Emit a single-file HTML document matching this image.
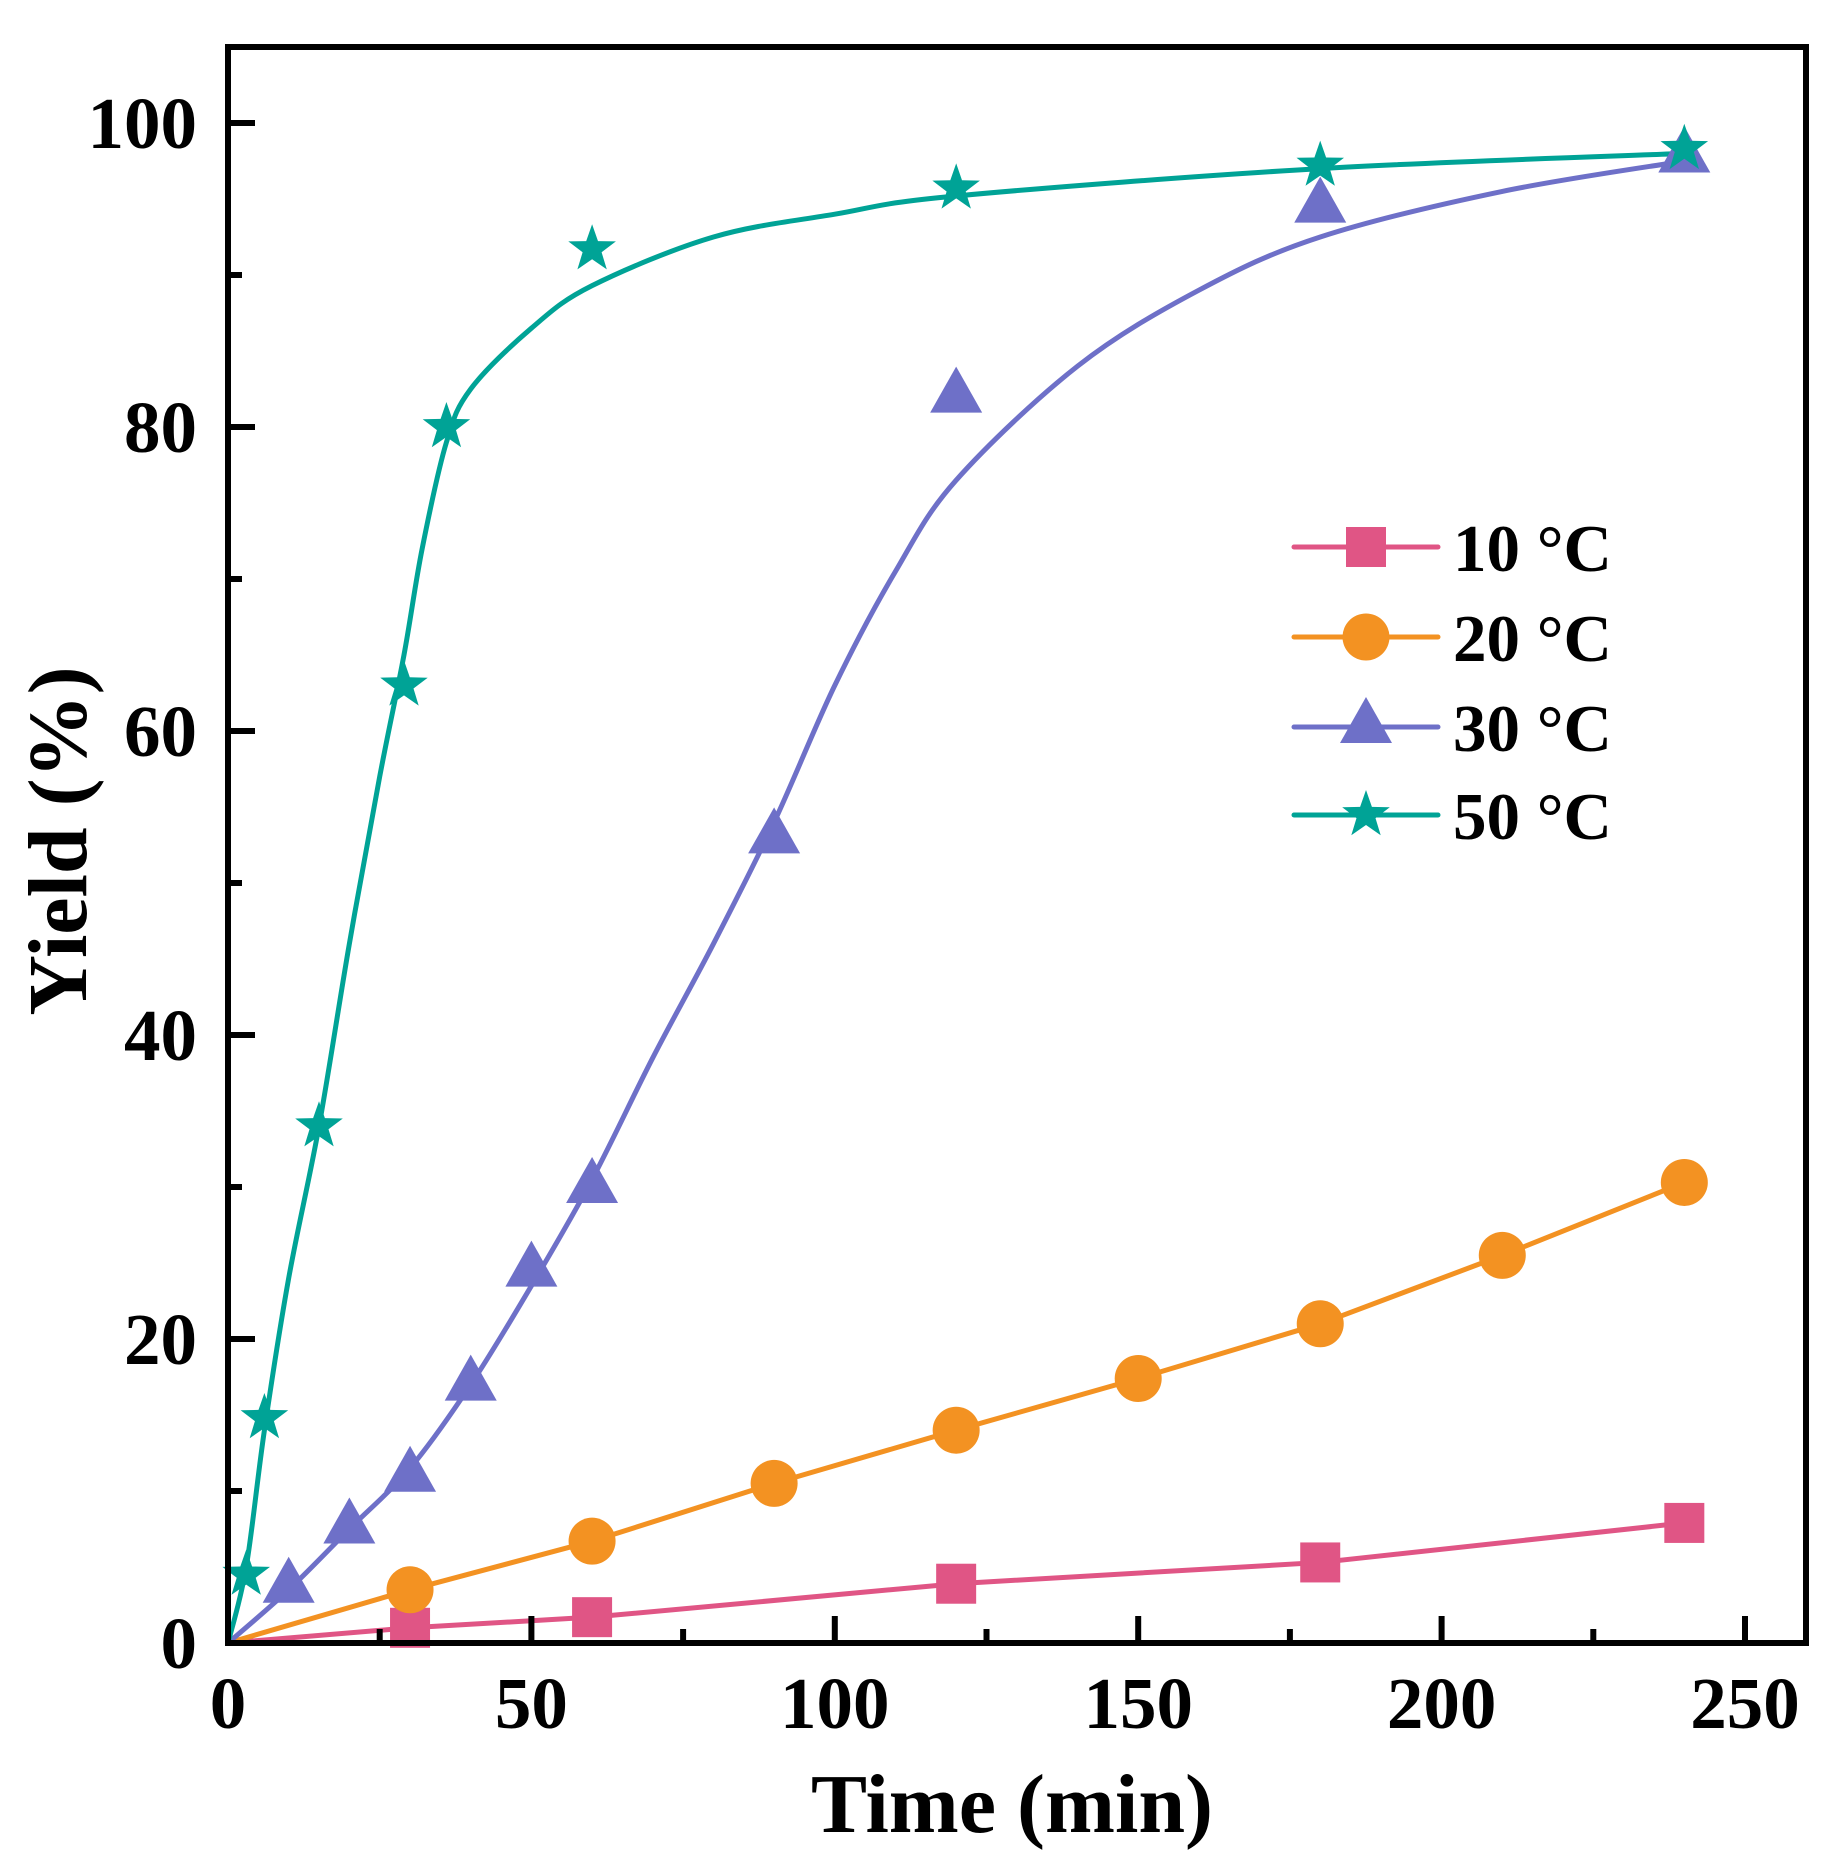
<!DOCTYPE html>
<html><head><meta charset="utf-8"><style>
html,body{margin:0;padding:0;background:#fff}
svg{display:block}
text{font-family:"Liberation Serif",serif;font-weight:bold;fill:#000}
</style></head><body>
<svg id="chart" width="1833" height="1858" viewBox="0 0 1833 1858" xmlns="http://www.w3.org/2000/svg">
<g id="plot"></g>
</svg>
<script>
const xTicks = [0, 50, 100, 150, 200, 250];
const yTicks = [0, 20, 40, 60, 80, 100];
const seriesNames = ["10 °C", "20 °C", "30 °C", "50 °C"];
const t10 = [30, 60, 120, 180, 240];
const y10 = [1.0, 1.7, 3.9, 5.3, 7.9];
const t20 = [30, 60, 90, 120, 150, 180, 210, 240];
const y20 = [3.5, 6.7, 10.5, 14.0, 17.4, 21.0, 25.5, 30.3];
const t30 = [10, 20, 30, 40, 50, 60, 90, 120, 180, 240];
const y30 = [3.7, 7.6, 11.0, 17.0, 24.5, 30.0, 53.0, 82.0, 94.5, 97.8];
const t50 = [3, 6, 15, 29, 36, 60, 120, 180, 240];
const y50 = [4.5, 14.8, 34.0, 63.0, 80.0, 91.7, 95.7, 97.2, 98.3];
const fit30t = [0, 10, 20, 30, 40, 50, 60, 70, 80, 90, 100, 110, 120, 140, 160, 180, 210, 240];
const fit30y = [0, 3.5, 7.5, 11.5, 17, 23.5, 30.5, 38.5, 46, 54, 63, 70.5, 76.5, 84, 89, 92.5, 95.5, 97.5];
const fit50t = [0, 3, 6, 10, 15, 20, 25, 29, 32, 36, 40, 50, 60, 80, 100, 120, 180, 240];
const fit50y = [0, 5, 14, 24, 34, 46, 57, 65, 72, 79, 82.5, 86.5, 89.3, 92.5, 94, 95.2, 97, 98];

const L=228, R=1806, T=47, B=1643;
const X = v => L + v * (1745 - L) / 250;
const Y = v => B - v * (B - 123) / 100;
const NS = "http://www.w3.org/2000/svg";
const plot = document.getElementById("plot");
function mk(tag, attrs, parent){ const e=document.createElementNS(NS,tag); for(const k in attrs) e.setAttribute(k,attrs[k]); (parent||plot).appendChild(e); return e; }

const colors = ["#e05585","#f39222","#6e70c8","#00a396"];

function smooth(pts){
  let d = "M"+pts[0][0]+","+pts[0][1];
  for(let i=0;i<pts.length-1;i++){
    const p0=pts[Math.max(i-1,0)], p1=pts[i], p2=pts[i+1], p3=pts[Math.min(i+2,pts.length-1)];
    const c1=[p1[0]+(p2[0]-p0[0])/6, p1[1]+(p2[1]-p0[1])/6];
    const c2=[p2[0]-(p3[0]-p1[0])/6, p2[1]-(p3[1]-p1[1])/6];
    d+=" C"+c1[0]+","+c1[1]+" "+c2[0]+","+c2[1]+" "+p2[0]+","+p2[1];
  }
  return d;
}
function marker(type, cx, cy, color, parent){
  let e;
  if(type===0){ e=mk("rect",{x:cx-20,y:cy-20,width:40,height:40,fill:color},parent); }
  else if(type===1){ e=mk("circle",{cx:cx,cy:cy,r:23.5,fill:color},parent); }
  else if(type===2){ e=mk("polygon",{points:(cx)+","+(cy-30)+" "+(cx+26)+","+(cy+16)+" "+(cx-26)+","+(cy+16),fill:color},parent); }
  else { let p=[]; for(let i=0;i<10;i++){ const r=i%2?10:25; const a=-Math.PI/2+i*Math.PI/5; p.push((cx+r*Math.cos(a)).toFixed(1)+","+(cy+r*Math.sin(a)).toFixed(1)); }
    e=mk("polygon",{points:p.join(" "),fill:color},parent); }
  return e;
}

// series lines (straight lines start at the origin)
const lineSets = [[t10,y10,false],[t20,y20,false],[fit30t,fit30y,true],[fit50t,fit50y,true]];
const ptSets = [[t10,y10],[t20,y20],[t30,y30],[t50,y50]];
lineSets.forEach((s,i)=>{
  let pts = s[0].map((t,j)=>[X(t),Y(s[1][j])]);
  let d;
  if(s[2]) d = smooth(pts);
  else { pts = [[X(0),Y(0)]].concat(pts); d = "M"+pts.map(p=>p[0]+","+p[1]).join(" L"); }
  const p = mk("path",{d:d,fill:"none",stroke:colors[i],"stroke-width":5,"stroke-linejoin":"round"});
  
  
});
ptSets.forEach((s,i)=>{
  const g = mk("g",{});
  
  
  s[0].forEach((t,j)=>{
    const m = marker(i, X(t), Y(s[1][j]), colors[i], g);
    
    
  });
});

// frame
const frame = mk("rect",{x:L,y:T,width:R-L,height:B-T,fill:"none",stroke:"#000","stroke-width":6});



// ticks
xTicks.forEach((v,i)=>{
  mk("line",{x1:X(v),x2:X(v),y1:B,y2:B-27,stroke:"#000","stroke-width":6});
  if(i<xTicks.length-1){ const m=(xTicks[i]+xTicks[i+1])/2; mk("line",{x1:X(m),x2:X(m),y1:B,y2:B-14,stroke:"#000","stroke-width":6}); }
  const tx = mk("text",{x:X(v),y:1728,"text-anchor":"middle","font-size":73});
  tx.textContent = v;
  
  
});
yTicks.forEach((v,i)=>{
  mk("line",{x1:L,x2:L+27,y1:Y(v),y2:Y(v),stroke:"#000","stroke-width":6});
  if(i<yTicks.length-1){ const m=(yTicks[i]+yTicks[i+1])/2; mk("line",{x1:L,x2:L+14,y1:Y(m),y2:Y(m),stroke:"#000","stroke-width":6}); }
  const tx = mk("text",{x:197,y:Y(v)+25,"text-anchor":"end","font-size":73});
  tx.textContent = v;
  
  
});

// titles
const xt = mk("text",{x:1012,y:1832,"text-anchor":"middle","font-size":84});
xt.textContent = "Time (min)";


const yt = mk("text",{x:0,y:0,"text-anchor":"middle","font-size":84,transform:"translate(86,841) rotate(-90)"});
yt.textContent = "Yield (%)";



// legend
const legRows = [547, 637, 727, 815];
const leg = mk("g",{});


seriesNames.forEach((n,i)=>{
  const g = mk("g",{},leg);
  
  
  mk("line",{x1:1294,x2:1438,y1:legRows[i],y2:legRows[i],stroke:colors[i],"stroke-width":5,"stroke-linecap":"round"},g);
  marker(i,1366,legRows[i],colors[i],g);
  const tx = mk("text",{x:1453,y:legRows[i]+24,"font-size":67},g);
  tx.textContent = n;
});
</script>
</body></html>
